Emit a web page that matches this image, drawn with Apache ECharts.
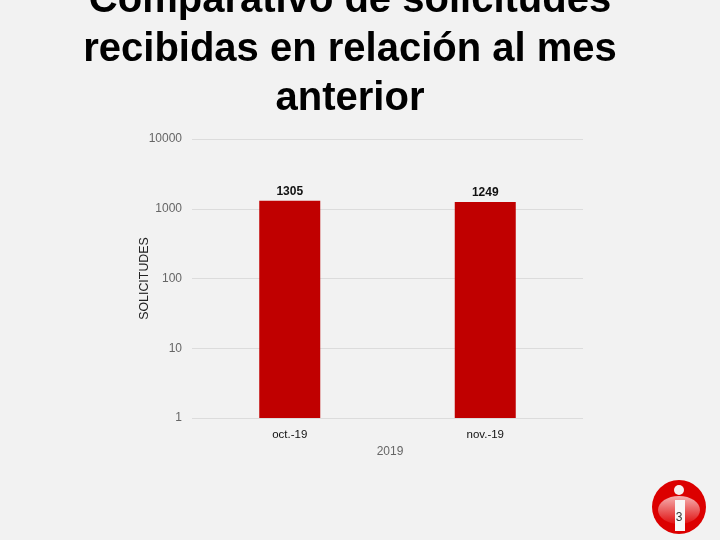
<!DOCTYPE html>
<html>
<head>
<meta charset="utf-8">
<style>
  html, body { margin: 0; padding: 0; background: #f2f2f2; }
  #chart { width: 720px; height: 540px; }
</style>
<script src="https://cdn.jsdelivr.net/npm/echarts@6/dist/echarts.min.js"></script>
</head>
<body>
<div id="chart"></div>
<script>
const titleText = 'Comparativo de solicitudes\nrecibidas en relación al mes\nanterior'
const categories = ['oct.-19', 'nov.-19']
const solicitudes = [1305, 1249]
const yAxisName = 'SOLICITUDES'
const xAxisName = '2019'
const pageNumber = '3'

const chart = echarts.init(document.getElementById('chart'))
chart.setOption({
  backgroundColor: '#f2f2f2',
  animation: false,
  textStyle: { fontFamily: '"Liberation Sans", Arial, sans-serif' },
  title: {
    text: titleText,
    left: 345,
    top: -29,
    textAlign: 'center',
    textStyle: {
      fontSize: 40,
      fontWeight: 'bold',
      lineHeight: 49,
      color: '#000',
      fontFamily: '"Liberation Sans", Arial, sans-serif'
    }
  },
  grid: { left: 192, right: 137, top: 139, bottom: 122 },
  xAxis: {
    type: 'category',
    data: categories,
    name: xAxisName,
    nameLocation: 'middle',
    nameGap: 28,
    nameTextStyle: { color: '#666', fontSize: 12, padding: [0, 0, 0, 5] },
    axisLine: { show: false },
    axisTick: { show: false },
    axisLabel: { color: '#111', fontSize: 11.5, margin: 11 }
  },
  yAxis: {
    type: 'log',
    logBase: 10,
    min: 1,
    max: 10000,
    name: yAxisName,
    nameLocation: 'middle',
    nameGap: 41,
    nameMoveOverlap: false,
    nameTextStyle: { color: '#222', fontSize: 12.4 },
    axisLine: { show: false },
    axisTick: { show: false },
    axisLabel: {
      color: '#666',
      fontSize: 12,
      margin: 10,
      formatter: function(value) {
        return String(value)
      }
    },
    splitLine: { lineStyle: { color: '#dcdcdc', width: 1 } },
    minorTick: { show: false },
    minorSplitLine: { show: false }
  },
  series: [{
    type: 'bar',
    data: solicitudes,
    barWidth: 61,
    itemStyle: { color: '#c00000' },
    label: {
      show: true,
      position: 'top',
      distance: 3,
      color: '#111',
      fontSize: 12,
      fontWeight: 'bold'
    }
  }],
  graphic: [
    {
      type: 'circle',
      shape: { cx: 679, cy: 507, r: 27 },
      style: { fill: '#dc0000' }
    },
    {
      type: 'ellipse',
      shape: { cx: 679, cy: 510, rx: 21, ry: 14 },
      style: {
        fill: {
          type: 'linear', x: 0, y: 0, x2: 0, y2: 1,
          colorStops: [
            { offset: 0, color: '#f5b0b0' },
            { offset: 1, color: '#e01010' }
          ]
        }
      }
    },
    { type: 'circle', shape: { cx: 679, cy: 490, r: 5 }, style: { fill: '#f7f0f0' } },
    { type: 'rect', shape: { x: 675, y: 500, width: 10, height: 31 }, style: { fill: '#f8f8f8' } },
    {
      type: 'text',
      style: {
        x: 679, y: 518, text: pageNumber, fill: '#333', fontSize: 12,
        align: 'center', verticalAlign: 'middle',
        fontFamily: '"Liberation Sans", Arial, sans-serif'
      }
    }
  ]
})
</script>
</body>
</html>
